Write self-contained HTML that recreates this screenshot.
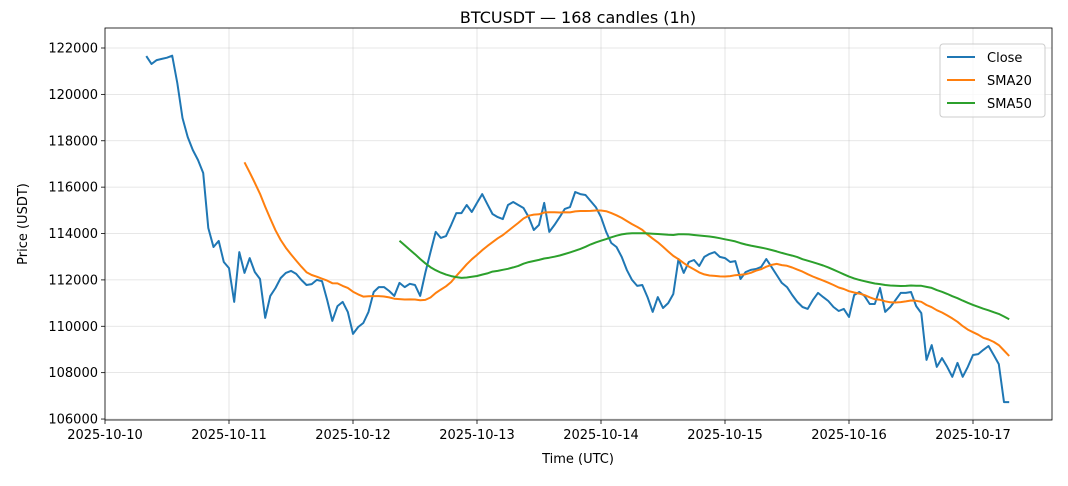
<!DOCTYPE html>
<html><head><meta charset="utf-8"><style>
body{margin:0;background:#fff;font-family:"Liberation Sans","DejaVu Sans",sans-serif}
svg text{font-family:"DejaVu Sans","Liberation Sans",sans-serif}
</style></head><body>
<svg id="c" width="1068" height="481" xmlns="http://www.w3.org/2000/svg"></svg>
<script>
const closes=[121650,121310,121480,121530,121580,121670,120490,118980,118160,117600,117170,116610,114240,113420,113680,112770,112510,111050,113200,112300,112940,112340,112040,110360,111310,111650,112080,112300,112390,112260,112000,111780,111820,112000,111950,111130,110230,110870,111050,110620,109670,109970,110140,110620,111480,111690,111690,111520,111310,111870,
111690,111830,111780,111310,112300,113200,114070,113810,113890,114370,114880,114880,115230,114930,115320,115700,115270,114840,114710,114620,115230,115360,115230,115100,114710,114150,114370,115320,114070,114370,114710,115060,115140,115790,115700,115660,115400,115140,114710,114070,113590,
113420,112990,112430,112000,111740,111780,111260,110620,111260,110790,111000,111390,112900,112300,112770,112860,112600,112990,113120,113200,112990,112940,112770,112810,112040,112340,112430,112470,112560,112900,112560,112210,111870,111690,111350,111050,110830,110750,111130,111440,111260,111090,110830,110660,110750,110400,111350,111480,
111310,110960,110960,111650,110620,110830,111130,111440,111440,111480,110870,110570,108550,109190,108250,108630,108250,107820,108420,107820,108250,108760,108800,108980,109150,108760,108370,106730,106730];
const startHour=8;
const yTicks=[106000,108000,110000,112000,114000,116000,118000,120000,122000];
const xTickLabels=["2025-10-10","2025-10-11","2025-10-12","2025-10-13","2025-10-14","2025-10-15","2025-10-16","2025-10-17"];
const L=105,R=1052,T=28,B=420;
const xs=h=>L+h*124/24;
const ys=v=>48+(122000-v)/1000*23.19;
const NS="http://www.w3.org/2000/svg";
const svg=document.getElementById('c');
function mk(t,a,txt){const e=document.createElementNS(NS,t);for(const k in a)e.setAttribute(k,a[k]);if(txt!==undefined)e.textContent=txt;svg.appendChild(e);return e;}
yTicks.forEach(v=>{const y=ys(v);
 const g=mk('line',{x1:L,x2:R,y1:y,y2:y,stroke:'#b0b0b0','stroke-opacity':0.4,'stroke-width':0.8});
 
 mk('line',{x1:L-4,x2:L,y1:y,y2:y,stroke:'#000','stroke-width':0.8});
 const t=mk('text',{x:L-7,y:y+4.5,'text-anchor':'end','font-size':13},String(v));
 });
xTickLabels.forEach((s,i)=>{const x=xs(i*24);
 const g=mk('line',{x1:x,x2:x,y1:T,y2:B,stroke:'#b0b0b0','stroke-opacity':0.4,'stroke-width':0.8});
 
 mk('line',{x1:x,x2:x,y1:B,y2:B+4,stroke:'#000','stroke-width':0.8});
 const t=mk('text',{x:x,y:B+19,'text-anchor':'middle','font-size':13},s);
 });
function sma(n){return closes.map((c,i)=>{if(i<n-1)return null;let s=0;for(let j=i-n+1;j<=i;j++)s+=closes[j];return s/n;});}
function path(vals,color,name){let d='';vals.forEach((v,i)=>{if(v==null)return;d+=(d?'L':'M')+xs(startHour+i).toFixed(1)+','+ys(v).toFixed(1);});
 const p=mk('path',{d:d,fill:'none',stroke:color,'stroke-width':2,'stroke-linejoin':'round'});
 }
path(closes,'#1f77b4','close-line');
path(sma(20),'#ff7f0e','sma20-line');
path(sma(50),'#2ca02c','sma50-line');
const fr=mk('rect',{x:L,y:T,width:R-L,height:B-T,fill:'none',stroke:'#000','stroke-width':0.8});

const tt=mk('text',{x:578,y:23,'text-anchor':'middle','font-size':16},'BTCUSDT — 168 candles (1h)');

const xt=mk('text',{x:578,y:463,'text-anchor':'middle','font-size':13},'Time (UTC)');

const yt=mk('text',{x:27,y:224,'text-anchor':'middle','font-size':13,transform:'rotate(-90 27 224)'},'Price (USDT)');

const lg=mk('rect',{x:940,y:44,width:105,height:73,fill:'#fff','fill-opacity':0.8,stroke:'#ccc',rx:3});

[['Close','#1f77b4'],['SMA20','#ff7f0e'],['SMA50','#2ca02c']].forEach((e,i)=>{const y=57+i*23;
 mk('line',{x1:947,x2:975,y1:y,y2:y,stroke:e[1],'stroke-width':2});
 const t=mk('text',{x:987,y:y+5,'font-size':13},e[0]);
 });
</script>
</body></html>
